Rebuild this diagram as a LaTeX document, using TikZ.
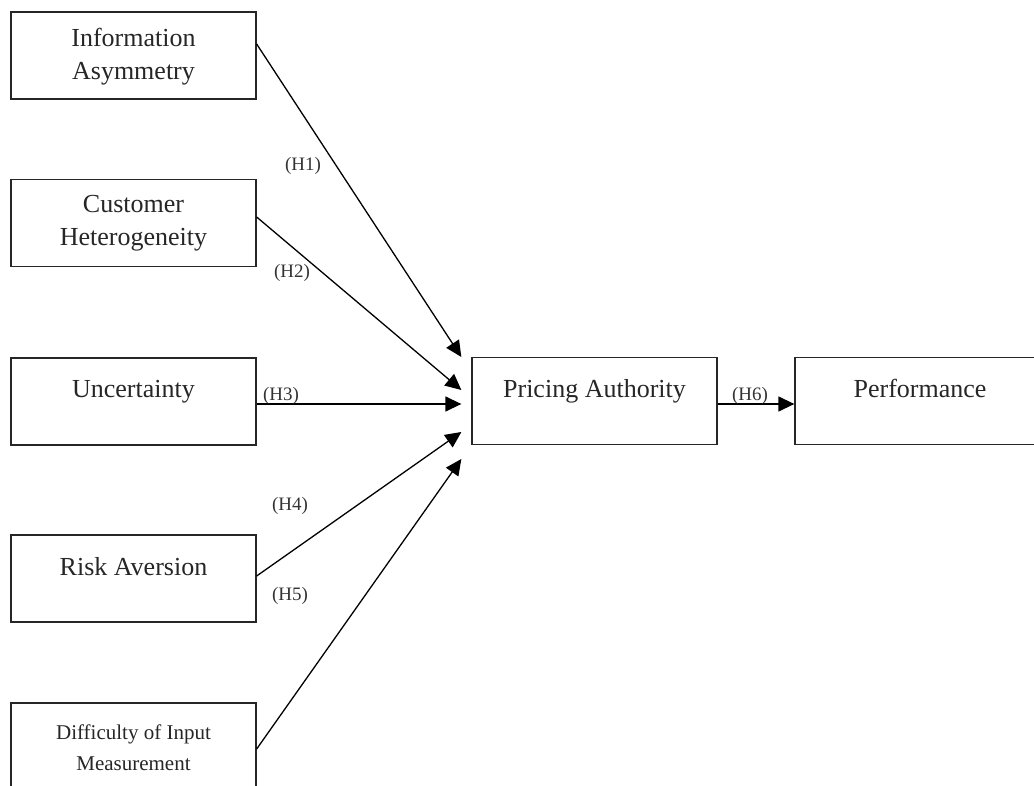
\documentclass[tikz,border=0pt]{standalone}
\usepackage{fontspec}
\setmainfont{Liberation Serif}
\usetikzlibrary{arrows.meta}
\begin{document}
\begin{tikzpicture}[x=1pt,y=-1pt,
  box/.style={draw=black!85, line width=1.3pt, rectangle, inner sep=0pt, minimum width=245pt, minimum height=87pt},
  boxtext/.style={text=black!85, align=center, inner sep=0pt, font=\fontsize{26}{33}\selectfont, anchor=base},
  smalltext/.style={text=black!85, align=center, inner sep=0pt, font=\fontsize{21}{31}\selectfont, anchor=base},
  hlabel/.style={text=black!80, inner sep=0pt, font=\fontsize{19}{22}\selectfont, anchor=base},
  link/.style={line width=1.3pt, -{Triangle[length=16pt,width=15pt]}}]
\clip (0,0) rectangle (1034,786);
% boxes
\node[box] (ia) at (133.5,55.5) {};
\node[box] (ch) at (133.5,223) {};
\node[box] (un) at (133.5,401.5) {};
\node[box] (ra) at (133.5,578.5) {};
\node[box, minimum height=97pt] (di) at (133.5,751.5) {};
\node[box] (pa) at (594.5,401) {};
\node[box, minimum width=250pt] (pe) at (920,401) {};
% texts (base anchor = baseline of the last line)
\node[boxtext] (tia) at (133.5,80) {Information\\Asymmetry};
\node[boxtext] (tch) at (133.5,246) {Customer\\Heterogeneity};
\node[boxtext] (tun) at (133.5,398) {Uncertainty};
\node[boxtext] (tra) at (133.5,575) {Risk Aversion};
\node[smalltext] (tdi) at (133.5,770) {Difficulty of Input\\Measurement};
\node[boxtext] (tpa) at (594.5,398) {Pricing Authority};
\node[boxtext] (tpe) at (920,398) {Performance};
% connectors
\draw[link] ([yshift=11.5pt]ia.east) -- ([xshift=-10pt,yshift=44pt]pa.west);
\draw[link] ([yshift=6pt]ch.east) -- ([xshift=-10pt,yshift=11pt]pa.west);
\draw[link] ([yshift=-2.5pt]un.east) -- ([xshift=-10pt,yshift=-3pt]pa.west);
\draw[link] ([yshift=2.5pt]ra.east) -- ([xshift=-10pt,yshift=-31pt]pa.west);
\draw[link] ([yshift=2.5pt]di.east) -- ([xshift=-10pt,yshift=-58pt]pa.west);
\draw[link] ([yshift=-3pt]pa.east) -- ([yshift=-3pt]pe.west);
% labels
\node[hlabel] (h1) at (303,171) {(H1)};
\node[hlabel] (h2) at (292,278) {(H2)};
\node[hlabel] (h3) at (281,400) {(H3)};
\node[hlabel] (h4) at (290,510) {(H4)};
\node[hlabel] (h5) at (290,600) {(H5)};
\node[hlabel] (h6) at (750,401) {(H6)};
\end{tikzpicture}
\end{document}
